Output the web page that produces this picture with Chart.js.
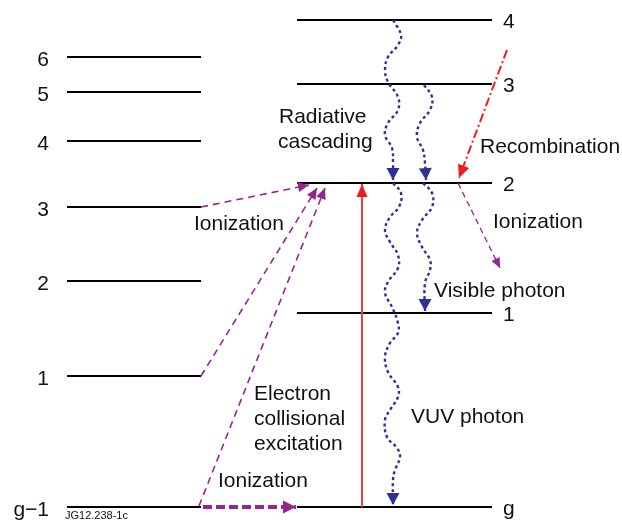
<!DOCTYPE html>
<html lang="en">
<head>
<meta charset="UTF-8" />
<title>Energy levels</title>
<script src="https://cdn.jsdelivr.net/npm/chart.js"></script>
<style>
  html, body { margin: 0; padding: 0; background: #fff; }
  #wrap { width: 622px; height: 520px; position: relative; }
</style>
</head>
<body>
<div id="wrap"><canvas id="diagram"></canvas></div>
<script>
// level values (diagram units, top = 0)
const leftLabels = ['6', '5', '4', '3', '2', '1', 'g\u22121'];
const leftLevelY = [57, 92, 141, 207, 281, 376, 507];
const rightLabels = ['4', '3', '2', '1', 'g'];
const rightLevelY = [20, 84, 183, 313, 507];
const leftSpan = [67, 201];
const rightSpan = [297, 492];

// transitions
const ionFrom3 = [[201, 207], [309, 185]];
const ionFrom1 = [[201, 376], [317, 188]];
const ionFromG = [[199, 506], [325, 188]];
const ionDirect = [[203, 507], [296, 507]];
const excitation = [[362, 507], [362, 184]];
const recombination = [[507, 50], [459, 178]];
const ionRight = [[458, 183], [500, 268]];
const cascade42 = [[393, 20], [401, 35], [398, 45], [388, 57], [385, 70], [388, 82], [398, 97], [398, 110],
  [388, 123], [385, 135], [392, 148], [393, 163], [393, 180]];
const cascade32 = [[424, 85], [432, 97], [430, 110], [420, 123], [417, 137], [423, 150], [425, 163], [426, 180]];
const visible21 = [[423, 183], [432, 193], [432, 207], [422, 220], [417, 233], [422, 247], [430, 260],
  [430, 270], [425, 283], [425, 311]];
const vuv2g = [[393, 183], [401, 193], [399, 207], [390, 217], [385, 230], [390, 242], [398, 255], [398, 268],
  [388, 282], [385, 293], [392, 307], [398, 323], [398, 333], [390, 343], [385, 357], [388, 372], [398, 387],
  [398, 397], [390, 410], [385, 420], [387, 437], [397, 448], [400, 457], [395, 470], [393, 480], [393, 505]];

const notes = [
  { text: 'Radiative', x: 279, y: 123 },
  { text: 'cascading', x: 278, y: 148 },
  { text: 'Recombination', x: 480, y: 153 },
  { text: 'Ionization', x: 194, y: 230 },
  { text: 'Ionization', x: 493, y: 228 },
  { text: 'Visible photon', x: 434, y: 297 },
  { text: 'Electron', x: 254, y: 400 },
  { text: 'collisional', x: 254, y: 425 },
  { text: 'excitation', x: 254, y: 450 },
  { text: 'VUV photon', x: 411, y: 423 },
  { text: 'Ionization', x: 218, y: 487 }
];

const PURPLE = '#93278f';
const BLUE = '#2e3192';
const RED = '#ed1c24';
const FONT = '"Liberation Sans", Arial, sans-serif';

const pts = arr => arr.map(p => ({ x: p[0], y: p[1] }));

function level(xs, y) {
  return {
    data: [{ x: xs[0], y: y }, { x: xs[1], y: y }],
    borderColor: '#000', borderWidth: 1.8, showLine: true, pointRadius: 0
  };
}

function arrowLine(arr, color, width, dash, head, tension) {
  return {
    data: pts(arr), borderColor: color, borderWidth: width, borderDash: dash,
    showLine: true, pointRadius: 0, tension: tension || 0, arrow: head
  };
}

const datasets = [];
datasets.push(arrowLine(cascade42, BLUE, 2.4, [3, 3], { len: 12, w: 13, color: BLUE }, 0.4));
datasets.push(arrowLine(cascade32, BLUE, 2.4, [3, 3], { len: 12, w: 13, color: BLUE }, 0.4));
datasets.push(arrowLine(visible21, BLUE, 2.4, [3, 3], { len: 12, w: 13, color: BLUE }, 0.4));
datasets.push(arrowLine(vuv2g, BLUE, 2.4, [3, 3], { len: 12, w: 13, color: BLUE }, 0.4));
datasets.push(arrowLine(ionFrom3, PURPLE, 1.6, [7, 5], { len: 11, w: 10, color: PURPLE }));
datasets.push(arrowLine(ionFrom1, PURPLE, 1.6, [7, 5], { len: 11, w: 10, color: PURPLE }));
datasets.push(arrowLine(ionFromG, PURPLE, 1.6, [7, 5], { len: 11, w: 10, color: PURPLE }));
datasets.push(arrowLine(ionDirect, PURPLE, 4, [9, 4], { len: 13, w: 13, color: PURPLE }));
datasets.push(arrowLine(ionRight, PURPLE, 1.3, [6, 4], { len: 10, w: 9, color: PURPLE }));
datasets.push(arrowLine(recombination, RED, 2, [9, 3, 2, 3], { len: 13, w: 12, color: RED }));
datasets.push(arrowLine(excitation, '#ee3e42', 2, [], { len: 13, w: 11, color: RED }));
leftLevelY.forEach(y => datasets.push(level(leftSpan, y)));
rightLevelY.forEach(y => datasets.push(level(rightSpan, y)));

// arrow heads at the end of each transition
const arrowHeads = {
  id: 'arrowHeads',
  afterDatasetsDraw(chart) {
    const ctx = chart.ctx;
    chart.data.datasets.forEach((ds, i) => {
      if (!ds.arrow) return;
      const el = chart.getDatasetMeta(i).data;
      const a = el[el.length - 2], b = el[el.length - 1];
      const ang = Math.atan2(b.y - a.y, b.x - a.x);
      const h = ds.arrow;
      ctx.save();
      ctx.translate(b.x, b.y);
      ctx.rotate(ang);
      ctx.fillStyle = h.color;
      ctx.beginPath();
      ctx.moveTo(0, 0);
      ctx.lineTo(-h.len, -h.w / 2);
      ctx.lineTo(-h.len, h.w / 2);
      ctx.closePath();
      ctx.fill();
      ctx.restore();
    });
  }
};

// level numbers and text notes
const labels = {
  id: 'labels',
  afterDraw(chart) {
    const ctx = chart.ctx;
    const sx = chart.scales.x, sy = chart.scales.y;
    ctx.save();
    ctx.fillStyle = '#111';
    ctx.font = '21px ' + FONT;
    ctx.textBaseline = 'alphabetic';
    ctx.textAlign = 'right';
    leftLabels.forEach((t, i) => {
      ctx.fillText(t, sx.getPixelForValue(leftSpan[0]) - 18, sy.getPixelForValue(leftLevelY[i]) + 9);
    });
    ctx.textAlign = 'left';
    rightLabels.forEach((t, i) => {
      ctx.fillText(t, sx.getPixelForValue(rightSpan[1]) + 11, sy.getPixelForValue(rightLevelY[i]) + 7.5);
    });
    notes.forEach(n => ctx.fillText(n.text, sx.getPixelForValue(n.x), sy.getPixelForValue(n.y)));
    ctx.font = '11px ' + FONT;
    ctx.fillText('JG12.238-1c', sx.getPixelForValue(65), sy.getPixelForValue(519));
    ctx.restore();
  }
};

new Chart(document.getElementById('diagram'), {
  type: 'scatter',
  data: { datasets: datasets },
  options: {
    responsive: true,
    maintainAspectRatio: false,
    animation: false,
    events: [],
    layout: { padding: 0 },
    plugins: { legend: { display: false }, tooltip: { enabled: false } },
    scales: {
      x: { type: 'linear', min: 0, max: 622, display: false },
      y: { type: 'linear', min: 0, max: 520, reverse: true, display: false }
    }
  },
  plugins: [arrowHeads, labels]
});
</script>
</body>
</html>
